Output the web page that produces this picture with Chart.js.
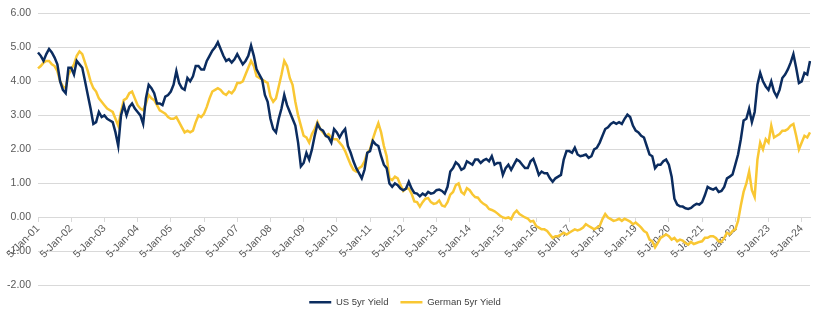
<!DOCTYPE html>
<html>
<head>
<meta charset="utf-8">
<script src="https://cdn.jsdelivr.net/npm/chart.js@4/dist/chart.umd.min.js"></script>
<style>
  html, body { margin: 0; padding: 0; background: #fff; }
  #wrap { width: 830px; height: 333px; }
</style>
</head>
<body>
<div id="wrap"><canvas id="yieldChart"></canvas></div>
<script>
// Monthly observations, Jan 2001 .. Apr 2024
const years = ['01','02','03','04','05','06','07','08','09','10','11','12',
               '13','14','15','16','17','18','19','20','21','22','23','24'];
const months = ['Jan','Feb','Mar','Apr','May','Jun','Jul','Aug','Sep','Oct','Nov','Dec'];
const yTicks = [-2, -1, 0, 1, 2, 3, 4, 5, 6];

const usYield = [
  4.85, 4.75, 4.6, 4.8, 4.95, 4.85, 4.7, 4.5, 4.0, 3.75, 3.65, 4.4,      // 2001
  4.4, 4.2, 4.6, 4.5, 4.4, 4.0, 3.6, 3.2, 2.75, 2.8, 3.1, 2.95,          // 2002
  3.0, 2.9, 2.85, 2.8, 2.5, 2.1, 3.0, 3.3, 3.0, 3.25, 3.35, 3.2,         // 2003
  3.1, 3.0, 2.75, 3.5, 3.9, 3.8, 3.65, 3.35, 3.35, 3.3, 3.55, 3.6,       // 2004
  3.7, 3.9, 4.3, 3.95, 3.8, 3.75, 4.1, 4.0, 4.15, 4.45, 4.45, 4.35,      // 2005
  4.35, 4.6, 4.75, 4.9, 5.0, 5.15, 4.95, 4.75, 4.6, 4.65, 4.55, 4.65,    // 2006
  4.8, 4.65, 4.5, 4.6, 4.75, 5.05, 4.75, 4.35, 4.2, 4.05, 3.6, 3.4,      // 2007
  2.9, 2.6, 2.5, 2.9, 3.2, 3.6, 3.3, 3.1, 2.9, 2.7, 2.2, 1.5,            // 2008
  1.6, 1.9, 1.7, 2.0, 2.4, 2.75, 2.6, 2.55, 2.4, 2.35, 2.2, 2.6,         // 2009
  2.5, 2.35, 2.5, 2.6, 2.1, 1.9, 1.65, 1.45, 1.3, 1.15, 1.4, 1.9,        // 2010
  1.95, 2.25, 2.15, 2.1, 1.8, 1.55, 1.45, 1.0, 0.9, 1.0, 0.95, 0.85,     // 2011
  0.8, 0.85, 1.05, 0.85, 0.72, 0.7, 0.62, 0.7, 0.65, 0.75, 0.7, 0.72,    // 2012
  0.8, 0.82, 0.78, 0.7, 0.9, 1.35, 1.45, 1.62, 1.55, 1.4, 1.45, 1.65,    // 2013
  1.6, 1.55, 1.7, 1.7, 1.6, 1.68, 1.72, 1.65, 1.8, 1.55, 1.6, 1.6,       // 2014
  1.25, 1.45, 1.55, 1.4, 1.55, 1.7, 1.65, 1.55, 1.45, 1.45, 1.65, 1.72,  // 2015
  1.5, 1.25, 1.35, 1.3, 1.3, 1.15, 1.05, 1.15, 1.2, 1.25, 1.7, 1.95,     // 2016
  1.95, 1.9, 2.05, 1.85, 1.8, 1.82, 1.85, 1.75, 1.8, 2.0, 2.05, 2.2,     // 2017
  2.4, 2.6, 2.65, 2.75, 2.8, 2.75, 2.8, 2.75, 2.9, 3.02, 2.95, 2.7,      // 2018
  2.55, 2.5, 2.4, 2.35, 2.1, 1.85, 1.8, 1.45, 1.55, 1.55, 1.65, 1.7,     // 2019
  1.55, 1.2, 0.55, 0.38, 0.33, 0.32, 0.27, 0.25, 0.28, 0.35, 0.4, 0.38,  // 2020
  0.45, 0.65, 0.9, 0.85, 0.82, 0.87, 0.75, 0.78, 0.9, 1.15, 1.2, 1.26,   // 2021
  1.55, 1.85, 2.3, 2.85, 2.9, 3.2, 2.8, 3.1, 3.9, 4.25, 4.0, 3.85,       // 2022
  3.75, 4.0, 3.7, 3.55, 3.75, 4.1, 4.2, 4.35, 4.55, 4.8, 4.4, 3.95,      // 2023
  4.0, 4.25, 4.2, 4.6                                                    // 2024
];

const germanYield = [
  4.38, 4.45, 4.55, 4.6, 4.6, 4.5, 4.45, 4.3, 4.0, 3.85, 3.8, 4.2,       // 2001
  4.35, 4.5, 4.75, 4.88, 4.8, 4.55, 4.3, 4.0, 3.8, 3.7, 3.5, 3.4,        // 2002
  3.3, 3.2, 3.15, 3.1, 2.9, 2.7, 3.1, 3.45, 3.5, 3.65, 3.7, 3.5,         // 2003
  3.3, 3.2, 3.15, 3.35, 3.6, 3.5, 3.45, 3.3, 3.15, 3.1, 3.05, 2.95,      // 2004
  2.9, 2.9, 2.95, 2.8, 2.65, 2.5, 2.55, 2.5, 2.55, 2.8, 3.0, 2.95,       // 2005
  3.05, 3.25, 3.5, 3.7, 3.75, 3.8, 3.75, 3.65, 3.6, 3.7, 3.65, 3.75,     // 2006
  3.95, 3.95, 4.0, 4.2, 4.4, 4.6, 4.45, 4.15, 4.1, 4.05, 4.0, 3.95,      // 2007
  3.55, 3.4, 3.5, 3.85, 4.2, 4.6, 4.45, 4.1, 3.9, 3.4, 3.0, 2.7,         // 2008
  2.4, 2.35, 2.2, 2.45, 2.6, 2.8, 2.6, 2.5, 2.4, 2.45, 2.35, 2.3,        // 2009
  2.3, 2.2, 2.1, 1.95, 1.75, 1.55, 1.4, 1.35, 1.45, 1.5, 1.65, 1.9,      // 2010
  2.0, 2.3, 2.55, 2.77, 2.5, 2.1, 1.8, 1.15, 1.1, 1.2, 1.15, 0.95,       // 2011
  0.78, 0.85, 0.85, 0.7, 0.47, 0.45, 0.32, 0.45, 0.55, 0.57, 0.45, 0.4,  // 2012
  0.42, 0.5, 0.35, 0.32, 0.45, 0.67, 0.75, 0.95, 1.0, 0.75, 0.68, 0.86,  // 2013
  0.8, 0.68, 0.6, 0.58, 0.47, 0.4, 0.35, 0.25, 0.22, 0.18, 0.12, 0.05,   // 2014
  0.0, -0.02, 0.0, -0.05, 0.12, 0.2, 0.1, 0.05, 0.0, -0.03, -0.12, -0.1, // 2015
  -0.25, -0.3, -0.35, -0.35, -0.4, -0.5, -0.6, -0.55, -0.55, -0.5, -0.45, -0.5,   // 2016
  -0.45, -0.4, -0.35, -0.38, -0.35, -0.3, -0.2, -0.25, -0.3, -0.35, -0.3, -0.25,  // 2017
  -0.05, 0.1, 0.0, -0.05, -0.1, -0.08, -0.04, -0.1, -0.04, -0.08, -0.12, -0.2,    // 2018
  -0.15, -0.22, -0.3, -0.4, -0.45, -0.65, -0.7, -0.88, -0.75, -0.6, -0.55, -0.5,  // 2019
  -0.55, -0.65, -0.6, -0.7, -0.65, -0.68, -0.75, -0.8, -0.72, -0.78, -0.75, -0.72,// 2020
  -0.7, -0.6, -0.6, -0.55, -0.55, -0.6, -0.7, -0.72, -0.6, -0.45, -0.5, -0.4,     // 2021
  -0.35, -0.1, 0.35, 0.75, 1.0, 1.35, 0.8, 0.6, 1.7, 2.2, 2.0, 2.3,     // 2022
  2.2, 2.7, 2.35, 2.4, 2.45, 2.55, 2.55, 2.6, 2.7, 2.75, 2.4, 2.0,      // 2023
  2.2, 2.4, 2.35, 2.5                                                   // 2024
];

// category labels, one per month
const labels = [];
years.forEach(y => months.forEach(m => labels.push(m + '-' + y)));
labels.length = usYield.length;

Chart.defaults.font.family = '"Liberation Sans", Arial, sans-serif';
Chart.defaults.color = '#595959';

const ctx = document.getElementById('yieldChart').getContext('2d');
new Chart(ctx, {
  type: 'line',
  data: {
    labels: labels,
    datasets: [
      {
        label: 'US 5yr Yield',
        data: usYield,
        borderColor: '#0b2c5f',
        backgroundColor: '#0b2c5f',
        borderWidth: 2.5,
        pointRadius: 0,
        tension: 0
      },
      {
        label: 'German 5yr Yield',
        data: germanYield,
        borderColor: '#f9c733',
        backgroundColor: '#f9c733',
        borderWidth: 2.5,
        pointRadius: 0,
        tension: 0
      }
    ]
  },
  options: {
    responsive: true,
    maintainAspectRatio: false,
    animation: false,
    layout: { padding: { left: 0, right: 20, top: 12, bottom: 16 } },
    plugins: {
      legend: {
        position: 'bottom',
        labels: {
          usePointStyle: true,
          pointStyle: 'line',
          pointStyleWidth: 22,
          padding: 12,
          color: '#404040',
          font: { size: 9.5 }
        }
      },
      tooltip: { enabled: false }
    },
    scales: {
      x: {
        position: { y: 0 },
        offset: false,
        grid: { drawOnChartArea: false, drawTicks: true, tickLength: 4, color: '#d9d9d9' },
        border: { display: true, color: '#d9d9d9' },
        ticks: {
          autoSkip: false,
          minRotation: 45,
          maxRotation: 45,
          padding: 1,
          font: { size: 10.5 },
          callback: function (value, index) {
            return index % 12 === 0 ? '5-' + this.getLabelForValue(value) : null;
          }
        }
      },
      y: {
        min: yTicks[0],
        max: yTicks[yTicks.length - 1],
        afterFit: scale => { scale.width = 38; },
        afterBuildTicks: scale => { scale.ticks = yTicks.map(v => ({ value: v })); },
        grid: { color: '#d9d9d9', drawTicks: false },
        border: { display: false },
        ticks: {
          padding: 7,
          font: { size: 10.5 },
          callback: v => v.toFixed(2)
        }
      }
    }
  }
});
</script>
</body>
</html>
